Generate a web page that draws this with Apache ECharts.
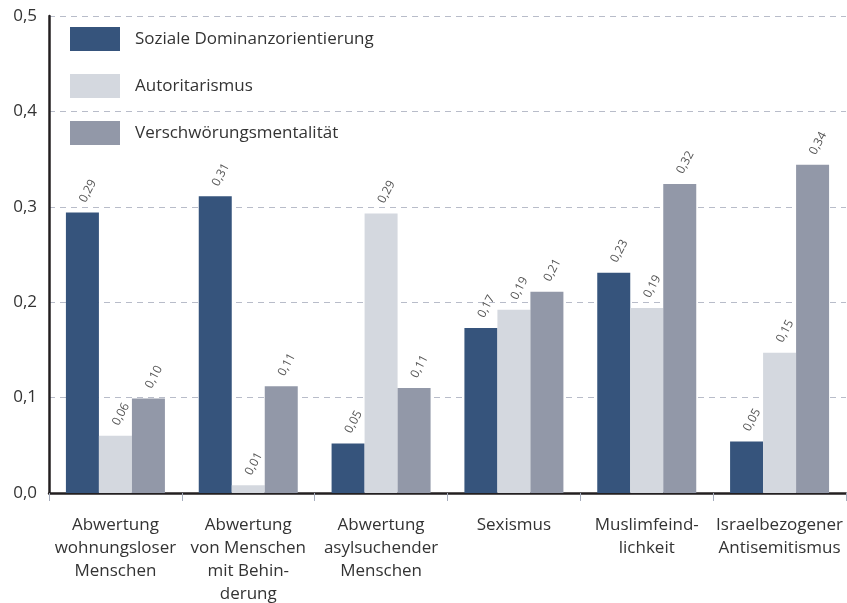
<!DOCTYPE html>
<html>
<head>
<meta charset="utf-8">
<script src="https://cdn.jsdelivr.net/npm/echarts@6/dist/echarts.min.js"></script>
<style>
html,body{margin:0;padding:0;background:#fff;}
#chart{width:847px;height:603px;}
</style>
</head>
<body>
<div id="chart"></div>
<script>
var categories = [
    'Abwertung\nwohnungsloser\nMenschen',
    'Abwertung\nvon Menschen\nmit Behin-\nderung',
    'Abwertung\nasylsuchender\nMenschen',
    'Sexismus',
    'Muslimfeind-\nlichkeit',
    'Israelbezogener\nAntisemitismus'
];
var seriesNames = ['Soziale Dominanzorientierung', 'Autoritarismus', 'Verschwörungsmentalität'];
var sdo = [0.294, 0.311, 0.052, 0.173, 0.231, 0.054];
var aut = [0.060, 0.008, 0.293, 0.192, 0.194, 0.147];
var vsm = [0.099, 0.112, 0.110, 0.211, 0.324, 0.344];
var yTicks = [0, 0.1, 0.2, 0.3, 0.4, 0.5];
var colors = ['#36547c', '#d4d8df', '#9298a8'];

var font = '"Open Sans", "Noto Sans", sans-serif';

function fmt(v){
    return v.toFixed(2).replace('.', ',');
}

function makeSeries(name, data){
    return {
        name: name,
        type: 'bar',
        data: data,
        barWidth: 33,
        barGap: '0%',
        label: {
            show: true,
            position: 'top',
            distance: 11,
            rotate: 62,
            align: 'left',
            verticalAlign: 'middle',
            fontFamily: font,
            fontSize: 12,
            color: '#555',
            formatter: function(p){ return fmt(p.value); }
        }
    };
}

var myChart = echarts.init(document.getElementById('chart'));
var option = {
    animation: false,
    color: colors,
    textStyle: { fontFamily: font },
    legend: {
        orient: 'vertical',
        left: 65,
        top: 22,
        itemWidth: 50,
        itemHeight: 24,
        itemGap: 23,
        icon: 'rect',
        data: seriesNames,
        textStyle: { fontSize: 17, color: '#333', fontFamily: font, padding: [0, 0, 0, 10] }
    },
    grid: {
        left: 49,
        right: 1,
        top: 16,
        bottom: 110,
        outerBoundsMode: 'none',
        containLabel: false
    },
    xAxis: {
        type: 'category',
        data: categories,
        axisLine: { lineStyle: { color: '#231f20', width: 2.5 } },
        axisTick: { show: true, length: 8, lineStyle: { color: '#a6adbd', width: 1 } },
        axisLabel: {
            margin: 21,
            fontSize: 17,
            lineHeight: 23,
            color: '#333',
            fontFamily: font,
            interval: 0
        }
    },
    yAxis: {
        type: 'value',
        min: 0,
        max: 0.5,
        interval: 0.1,
        axisLine: { show: true, lineStyle: { color: '#231f20', width: 2.5 } },
        axisTick: { show: false },
        axisLabel: {
            margin: 12,
            fontSize: 17,
            color: '#333',
            fontFamily: font,
            formatter: function(v){
                for (var i = 0; i < yTicks.length; i++) {
                    if (Math.abs(v - yTicks[i]) < 1e-6) return yTicks[i].toFixed(1).replace('.', ',');
                }
                return '';
            }
        },
        splitLine: { lineStyle: { color: '#b8bcc9', type: [6, 5], width: 1.2 } }
    },
    series: [
        makeSeries(seriesNames[0], sdo),
        makeSeries(seriesNames[1], aut),
        makeSeries(seriesNames[2], vsm)
    ]
};
myChart.setOption(option);
</script>
</body>
</html>
